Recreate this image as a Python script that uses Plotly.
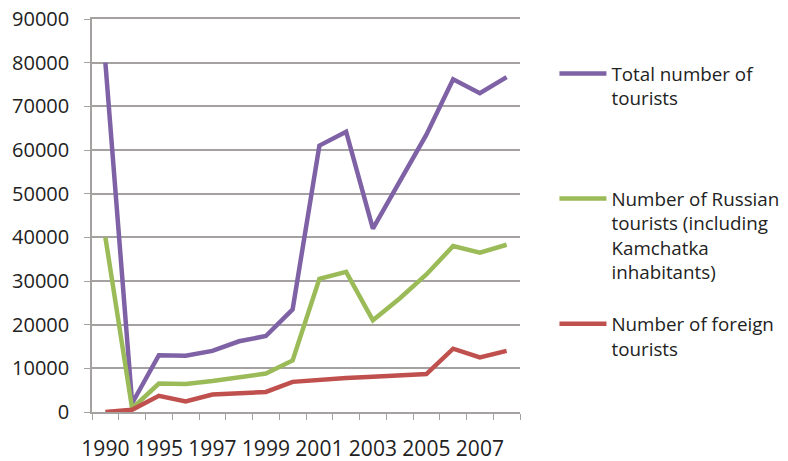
import plotly.graph_objects as go

years = ["1990", "1993", "1995", "1996", "1997", "1998", "1999", "2000",
         "2001", "2002", "2003", "2004", "2005", "2006", "2007", "2008"]
tick_labels = ["1990", "", "1995", "", "1997", "", "1999", "", "2001", "",
               "2003", "", "2005", "", "2007", ""]

total = [80000, 2000, 13000, 12900, 14000, 16200, 17400, 23500,
         61000, 64200, 42000, 53000, 63500, 76200, 73000, 76700]
russian = [40000, 800, 6500, 6400, 7100, 8000, 8800, 11800,
           30500, 32100, 21000, 26000, 31500, 38000, 36500, 38300]
foreign = [0, 500, 3700, 2400, 4000, 4200, 4600, 6900,
           7400, 7800, 8100, 8500, 8700, 14500, 12500, 14000]

names = [
    "\u00a0<br>Total number of<br>tourists",
    "\u00a0<br>\u00a0<br>\u00a0<br>Number of Russian<br>tourists (including<br>Kamchatka<br>inhabitants)",
    "\u00a0<br>Number of foreign<br>tourists",
]
colors = ["#7F62A6", "#9BBB59", "#C0504D"]

fig = go.Figure()
for series, name, col in zip([total, russian, foreign], names, colors):
    fig.add_trace(go.Scatter(x=years, y=series, mode="lines", name=name,
                             line=dict(color=col, width=4.5)))

font_family = "Open Sans, Lato, sans-serif"
grid_col = "#A6A1A1"
fig.update_layout(
    width=780, height=453,
    margin=dict(l=84, r=268, t=11, b=49, autoexpand=False),
    paper_bgcolor="white", plot_bgcolor="white",
    font=dict(family=font_family, size=19, color="#222222"),
    showlegend=True,
    legend=dict(x=1.0805, xanchor="left", y=0.9714, yanchor="top",
                xref="paper", yref="paper",
                font=dict(size=18.8, color="#222222"),
                itemwidth=47, tracegroupgap=0,
                bgcolor="rgba(0,0,0,0)"),
    xaxis=dict(type="category", categoryorder="array", categoryarray=years,
               tickmode="array", tickvals=years, ticktext=tick_labels,
               tickson="boundaries", ticks="outside", ticklen=6,
               tickcolor=grid_col, showline=True, linecolor=grid_col,
               linewidth=1.5, mirror=True, showgrid=False, range=[-0.5, 15.5],
               tickangle=0, automargin=False, ticklabeloverflow="allow",
               tickfont=dict(size=21, color="#222222"), ticklabelstandoff=17),
    yaxis=dict(range=[0, 90000], tickmode="linear", tick0=0, dtick=10000,
               tickformat="d",
               ticks="outside", ticklen=6, tickcolor=grid_col,
               showline=True, linecolor=grid_col, linewidth=1.5,
               showgrid=True, gridcolor=grid_col, gridwidth=1.5,
               zeroline=False, automargin=False, ticklabeloverflow="allow",
               tickfont=dict(size=20, color="#222222"),
               ticklabelstandoff=11),
)

fig.write_html("out.html")
